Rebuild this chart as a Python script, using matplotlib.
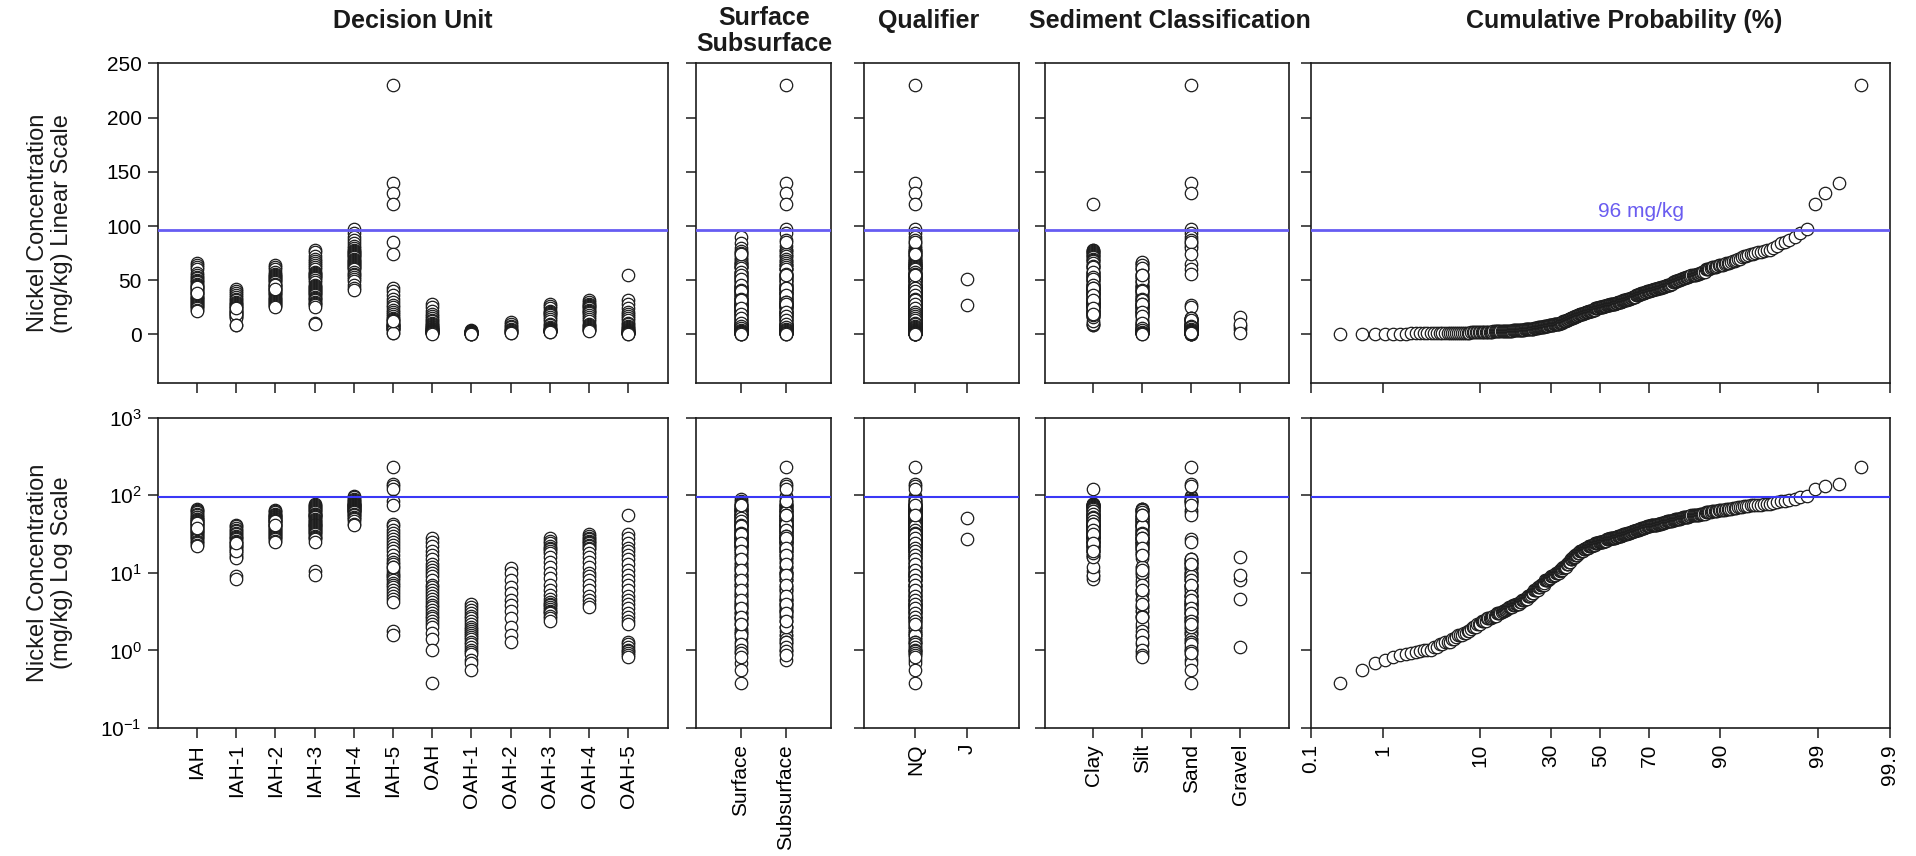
import numpy as np
import matplotlib
matplotlib.use("Agg")
import matplotlib.pyplot as plt
from matplotlib.ticker import NullLocator
from statistics import NormalDist

plt.rcParams['font.family'] = ['Liberation Sans', 'DejaVu Sans']
plt.rcParams['mathtext.fontset'] = 'custom'
plt.rcParams['mathtext.rm'] = 'Liberation Sans'
plt.rcParams['mathtext.it'] = 'Liberation Sans:italic'
plt.rcParams['mathtext.bf'] = 'Liberation Sans:bold'

# nickel results (mg/kg) grouped by decision unit
du_names = ["IAH", "IAH-1", "IAH-2", "IAH-3", "IAH-4", "IAH-5",
            "OAH", "OAH-1", "OAH-2", "OAH-3", "OAH-4", "OAH-5"]

iah = [66, 64, 62, 60, 57, 55, 53, 52, 50, 49, 48, 47, 46, 45, 44, 43, 42, 41, 40, 39,
       38, 37, 36, 35, 35, 34, 33, 32, 31, 30, 29, 28, 27, 26, 25, 24, 23, 22, 44, 38]
iah_1 = [42, 40, 38, 36, 35, 33, 32, 30, 29, 28, 27, 26, 25, 24, 23, 22, 21, 20, 19, 18,
         17, 16, 15.6, 22, 19, 24, 9.0, 8.3]
iah_2 = [64, 62, 60, 58, 56, 55, 54, 53, 52, 51, 50, 49, 48, 47, 46, 45, 44, 43, 42, 41,
         40, 39, 38, 37, 36, 35, 34, 33, 32, 31, 30, 29, 28, 27, 26, 25, 46, 42]
iah_3 = [78, 76, 72, 70, 68, 66, 64, 62, 60, 58, 57, 56, 55, 54, 53, 52, 50, 48, 46, 45,
         44, 43, 42, 41, 40, 39, 38, 37, 36, 35, 34, 33, 32, 30, 29, 28, 27, 25, 10.5, 9.3]
iah_4 = [97, 94, 90, 87, 84, 82, 80, 78, 77, 76, 75, 74, 73, 72, 71, 70, 69, 68, 67, 66,
         65, 64, 63, 62, 61, 60, 58, 56, 55, 53, 51, 49, 46, 43, 41]
iah_5 = [230, 140, 130, 120, 85, 74, 43, 40, 36, 33, 30, 27, 25, 23, 21, 19, 17, 15, 14, 13,
         12, 11, 10, 9.5, 9, 8.5, 8, 7.5, 7, 6.5, 6, 5.5, 5, 4.6, 4.2, 1.8, 1.6, 12]
oah = [28, 25, 22, 19, 17, 15, 13, 12, 11, 10, 9, 8, 7, 6.5, 6, 5.5, 5, 4.6, 4.2, 3.9,
       3.6, 3.3, 3.0, 2.8, 2.6, 2.4, 2.2, 2.0, 1.7, 1.4, 1.0, 0.38]
oah_1 = [4.0, 3.6, 3.3, 3.0, 2.8, 2.6, 2.4, 2.2, 2.0, 1.9, 1.8, 1.7, 1.6, 1.5, 1.4, 1.3,
         1.2, 1.1, 1.0, 0.95, 0.9, 0.75, 0.68, 0.56]
oah_2 = [11.5, 10, 8, 6.5, 5.5, 4.5, 3.8, 3.2, 2.6, 2.0, 1.6, 1.3]
oah_3 = [28, 26, 24, 22, 21, 20, 19, 18, 16, 14, 12, 10, 8.5, 7, 6, 5.2, 4.6, 4.2, 4.0, 3.8,
         3.6, 3.4, 3.2, 3.1, 3.0, 2.8, 2.6, 2.4]
oah_4 = [32, 30, 28, 27, 26, 25, 24, 23, 22, 21, 20, 18, 16, 14, 12, 10, 9, 8, 7, 6,
         5, 4.5, 4.0, 3.6]
oah_5 = [55, 32, 28, 24, 21, 19, 17, 15, 13, 11, 9.5, 8, 7, 6, 5, 4.5, 4, 3.5, 3, 2.7,
         2.4, 2.2, 1.3, 1.2, 1.1, 1.0, 0.97, 0.92, 0.88, 0.83]

# sample depth per result: S = surface, B = subsurface
iah_depth = "SBSBS BSBSB SBSBS BSBSB SBSBS BSBSB SBSBS BSBSB"
iah_1_depth = "BSBSB SBSBS BSBSB SBSBS BSBSB SBS"
iah_2_depth = "SSBSB SBSBS BSBSB SBSBS BSBSB SBSBS BSBSB SBS"
iah_3_depth = "BSBSB SBSBS BSBSB SBSBS BSBSB SBSBS BSBSB SBSBS"
iah_4_depth = "BBSBS BSBSB SBSBS BSBSB SBSBS BSBSB SBSBS"
iah_5_depth = "BBBBB SBSBS BSBSB SBSBS BSBSB SBSBS BSBSB SBS"
oah_depth = "SBSBS BSBSB SBSBS BSBSB SBSBS BSBSB BS"
oah_1_depth = "BSBSB SBSBS BSBSB SBSBS BBSS"
oah_2_depth = "SBSBS BSBSB SB"
oah_3_depth = "BSBSB SBSBS BSBSB SBSBS BSBSB SBS"
oah_4_depth = "SBSBS BSBSB SBSBS BSBSB SBSB"
oah_5_depth = "BSBSB SBSBS BSBSB SBSBS BSBSB SBSBS"

# sediment per result: C = clay, T = silt, A = sand, G = gravel
iah_sed = "TTCTC CTCCT CCTCC TCCTC CTCCT CCTCT CCTCC TCCTC"
iah_1_sed = "CTCCT CCTCC TCCTC CTCCT CCTCC TCC"
iah_2_sed = "CTCCT CCTCT CCTCC TCCTC CTCCT CCTCC TCCTC CTC"
iah_3_sed = "CCCCC TCCTC CTCCT CCTCC TCCTC CTCCT CCTCC TCCCC"
iah_4_sed = "AAAAA AACCC CCCCC CCCTC ATCCT ACATC CTCCT"
iah_5_sed = "AAACA ACTCT CAATC TCAAA ATAAT AATAA ATAAA ATC"
oah_sed = "TTTCT AATAA ATAAT AATAA TAAAT AATAA AA"
oah_1_sed = "ATAAT AATAA TAATA ATAAT AAAA"
oah_2_sed = "ATAAT AATAA TA"
oah_3_sed = "CTCTC TCTCA ATAAT AGAAT AATAA TAA"
oah_4_sed = "TCTCT CTCTC TCGAT AAGTA ATAA"
oah_5_sed = "TCTCT CTAAT GAATA ATAAT AATAG TAATT"

# results carrying a J qualifier
j_results = {"IAH-2": [51, 27]}

depth_names = ["Surface", "Subsurface"]
qual_names = ["NQ", "J"]
sed_codes = "CTAG"
sed_names = ["Clay", "Silt", "Sand", "Gravel"]

prob_ticks = [0.1, 1, 10, 30, 50, 70, 90, 99, 99.9]
prob_labels = ["0.1", "1", "10", "30", "50", "70", "90", "99", "99.9"]

screening_level = 96

du_values = [iah, iah_1, iah_2, iah_3, iah_4, iah_5, oah, oah_1, oah_2, oah_3, oah_4, oah_5]
du_depths = [iah_depth, iah_1_depth, iah_2_depth, iah_3_depth, iah_4_depth, iah_5_depth,
             oah_depth, oah_1_depth, oah_2_depth, oah_3_depth, oah_4_depth, oah_5_depth]
du_seds = [iah_sed, iah_1_sed, iah_2_sed, iah_3_sed, iah_4_sed, iah_5_sed,
           oah_sed, oah_1_sed, oah_2_sed, oah_3_sed, oah_4_sed, oah_5_sed]

# flatten into one record per result
conc, du_x, depth_x, qual_x, sed_x = [], [], [], [], []
for k, name in enumerate(du_names):
    vals = du_values[k]
    dep = du_depths[k].replace(" ", "")
    sed = du_seds[k].replace(" ", "")
    assert len(vals) == len(dep) == len(sed), name
    j_left = list(j_results.get(name, []))
    for v, d, s in zip(vals, dep, sed):
        conc.append(v)
        du_x.append(k)
        depth_x.append(0 if d == "S" else 1)
        if v in j_left:
            qual_x.append(1)
            j_left.remove(v)
        else:
            qual_x.append(0)
        sed_x.append(sed_codes.index(s))
conc = np.array(conc, dtype=float)

# cumulative probability (Weibull plotting position)
conc_sorted = np.sort(conc)
n = len(conc_sorted)
cum_prob = 100.0 * np.arange(1, n + 1) / (n + 1)

_nd = NormalDist()


def to_probit(p):
    p = np.asarray(p, dtype=float)
    p = np.where(np.isfinite(p), np.clip(p, 1e-4, 100 - 1e-4), 50.0)
    return np.vectorize(lambda q: _nd.inv_cdf(q / 100.0), otypes=[float])(p)


def from_probit(z):
    z = np.asarray(z, dtype=float)
    z = np.where(np.isfinite(z), z, 0.0)
    return np.vectorize(lambda v: _nd.cdf(v) * 100.0, otypes=[float])(z)


W, H = 1916, 856
fig = plt.figure(figsize=(W / 100, H / 100), dpi=100)

cols = [(157.7, 667.5), (695.5, 831.0), (863.7, 1018.8), (1044.5, 1289.4), (1311.0, 1889.5)]
rows = [(63.3, 383.3), (417.7, 728.0)]

line_colors = ["#665cf2", "#3a38f6"]
line_widths = [2.0, 1.5]
edge = "#1c1c1c"


def box(c, r):
    x0, x1 = cols[c]
    y0, y1 = rows[r]
    return [x0 / W, 1 - y1 / H, (x1 - x0) / W, (y1 - y0) / H]


def style(ax, show_y):
    for s in ax.spines.values():
        s.set_linewidth(1.2)
        s.set_color(edge)
    ax.tick_params(direction="out", length=7.5, width=1.1, color=edge,
                   labelsize=15, pad=4, top=False, right=False)
    if not show_y:
        ax.tick_params(labelleft=False)


cat_panels = [
    (du_x, du_names, (-1, 12)),
    (depth_x, depth_names, (-1, 2)),
    (qual_x, qual_names, (-1, 2)),
    (sed_x, sed_names, (-1, 4)),
]

for r in range(2):
    for c, (xs, names, xlim) in enumerate(cat_panels):
        ax = fig.add_axes(box(c, r))
        ax.scatter(xs, conc, s=80, facecolors="white", edgecolors=edge,
                   linewidths=0.9, zorder=3)
        ax.axhline(screening_level, color=line_colors[r], lw=line_widths[r], zorder=4)
        ax.set_xlim(*xlim)
        ax.set_xticks(range(len(names)))
        if r == 0:
            ax.set_xticklabels([])
            ax.set_ylim(-45, 250)
            ax.set_yticks([0, 50, 100, 150, 200, 250])
        else:
            ax.set_xticklabels(names, rotation=90)
            ax.set_yscale("log")
            ax.set_ylim(0.1, 1000)
            ax.set_yticks([0.1, 1, 10, 100, 1000])
            ax.yaxis.set_minor_locator(NullLocator())
        style(ax, c == 0)

    ax = fig.add_axes(box(4, r))
    ax.scatter(cum_prob, conc_sorted, s=80, facecolors="white", edgecolors=edge,
               linewidths=0.9, zorder=3)
    ax.axhline(screening_level, color=line_colors[r], lw=line_widths[r], zorder=4)
    ax.set_xscale("function", functions=(to_probit, from_probit))
    ax.set_xlim(0.1, 99.9)
    ax.set_xticks(prob_ticks)
    ax.xaxis.set_minor_locator(NullLocator())
    if r == 0:
        ax.set_xticklabels([])
        ax.set_ylim(-45, 250)
        ax.set_yticks([0, 50, 100, 150, 200, 250])
        ax.text(67, 113, f"{screening_level} mg/kg", color="#6a5cf0", fontsize=15,
                ha="center", va="center", zorder=5)
    else:
        ax.set_xticklabels(prob_labels, rotation=90)
        ax.set_yscale("log")
        ax.set_ylim(0.1, 1000)
        ax.set_yticks([0.1, 1, 10, 100, 1000])
        ax.yaxis.set_minor_locator(NullLocator())
    style(ax, False)

# column headings
titles = [("Decision Unit", 413), ("Qualifier", 929),
          ("Sediment Classification", 1170), ("Cumulative Probability (%)", 1624)]
for text, xc in titles:
    fig.text(xc / W, 1 - 21 / H, text, fontsize=18, fontweight="bold",
             ha="center", va="center", color="#1a1a1a")
fig.text(764 / W, 1 - 6 / H, "Surface\nSubsurface", fontsize=18, fontweight="bold",
         ha="center", va="top", linespacing=1.1, color="#1a1a1a")

# row labels
for (y0, y1), label in zip(rows, ["Nickel Concentration\n(mg/kg) Linear Scale",
                                  "Nickel Concentration\n(mg/kg) Log Scale"]):
    fig.text(50 / W, 1 - (y0 + y1) / 2 / H, label, fontsize=17, rotation=90,
             ha="center", va="center", multialignment="center", linespacing=1.15,
             color="#1a1a1a")

fig.savefig("out.png", dpi=100, facecolor="white")
